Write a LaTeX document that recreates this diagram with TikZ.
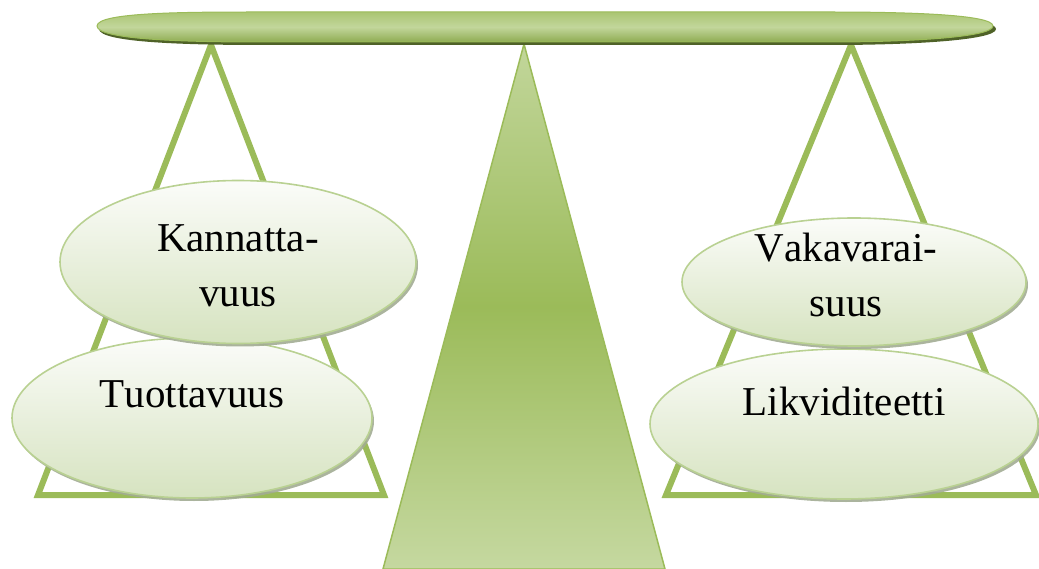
\documentclass[tikz,border=0pt]{standalone}
\usepackage{fontspec}
\setmainfont{Liberation Serif}[Kerning=Off]
\usetikzlibrary{shapes.geometric,shadows}
\definecolor{ogreen}{HTML}{9BBB59}
\definecolor{olight}{HTML}{C2D69B}
\definecolor{odark}{HTML}{4F6228}
\definecolor{bubtop}{HTML}{FBFCF9}
\definecolor{bubbot}{HTML}{D6E3C0}
\definecolor{bubedge}{HTML}{B9D192}
\definecolor{bubshadow}{HTML}{A2AC93}
\tikzset{
  pan/.style={draw=ogreen, line width=6pt, line join=miter},
  bub/.style={ellipse, inner sep=0pt, draw=bubedge, line width=1.6pt,
    top color=bubtop, bottom color=bubbot,
    drop shadow={shadow xshift=2pt, shadow yshift=-3pt, fill=bubshadow, opacity=0.9}},
  lbl/.style={font=\fontsize{41}{55}\selectfont, align=center, inner sep=0pt, text=black}
}
\begin{document}
\begin{tikzpicture}[x=1pt,y=-1pt]
\useasboundingbox (0,0) rectangle (1039,569);
% pans
\draw[pan] (211,45) -- (384,495) -- (38,495) -- cycle;
\draw[pan] (851,45) -- (1036,495) -- (666,495) -- cycle;
% fulcrum
\draw[draw=ogreen, line width=1.5pt, top color=olight, bottom color=olight!95!white, middle color=ogreen]
  (524,44) -- (665,569) -- (383,569) -- cycle;
% beam shadow
\fill[odark] (99,29) .. controls (99,15) and (192,15) .. (262,15) -- (832,15)
  .. controls (902,15) and (996,17) .. (996,29) .. controls (996,41) and (902,45) .. (832,45)
  -- (262,45) .. controls (192,45) and (99,43) .. (99,29) -- cycle;
% beam
\draw[draw=ogreen, line width=1pt, top color=ogreen!85!white, bottom color=ogreen!92!black, middle color=olight]
  (97,26) .. controls (97,12) and (190,12) .. (260,12) -- (830,12)
  .. controls (900,12) and (993,14) .. (993,26) .. controls (993,38) and (900,42) .. (830,42)
  -- (260,42) .. controls (190,42) and (97,40) .. (97,26) -- cycle;
% bubbles
\node[bub, minimum width=360pt, minimum height=160pt] (tuo) at (192,418) {};
\node[bub, minimum width=356pt, minimum height=163pt] (kan) at (238,262) {};
\node[bub, minimum width=388pt, minimum height=150pt] (lik) at (844,424) {};
\node[bub, minimum width=344pt, minimum height=128pt] (vak) at (854,282) {};
% labels
\node[lbl] (kant) at (238,266) {Kannatta-\\vuus};
\node[lbl] (tuot) at (192,394) {Tuottavuus};
\node[lbl] (vakt) at (846,275) {Vakavarai-\\suus};
\node[lbl] (likt) at (844,401) {Likviditeetti};
\end{tikzpicture}
\end{document}
